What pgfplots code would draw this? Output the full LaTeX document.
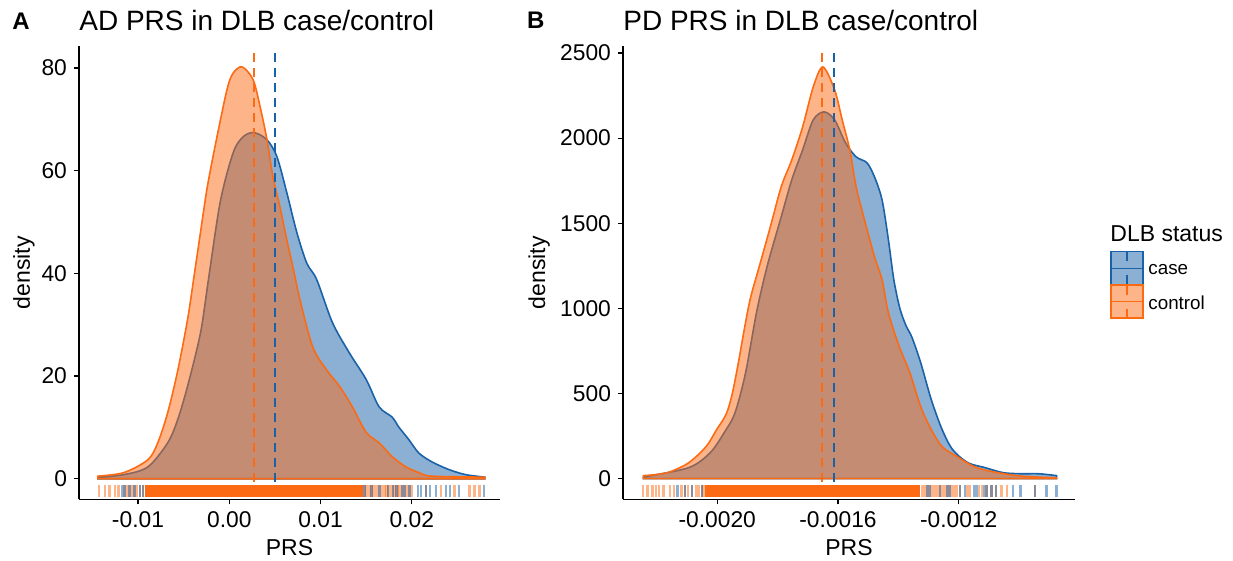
\documentclass[border=0pt]{standalone}
\usepackage{fontspec}
\setmainfont{Liberation Sans}
\usepackage{pgfplots}
\pgfplotsset{compat=1.18}
\usetikzlibrary{plotmarks}

\definecolor{caseblue}{HTML}{1A62A8}
\definecolor{ctrlorange}{HTML}{FC6A14}

\pgfplotsset{
  prsaxis/.style={
    scale only axis,
    anchor=south west,
    axis lines=left,
    axis line style={-, line width=0.6pt, black},
    tick align=outside,
    major tick length=2.5pt,
    every tick/.style={black, line width=0.6pt},
    tick label style={font=\fontsize{11.4}{13}\selectfont},
    scaled ticks=false,
  },
  dens/.style={line width=0.8pt, fill opacity=0.5, smooth, tension=0.5},
  rugo/.style={only marks, mark=|, mark size=3.1pt,
    mark options={draw=ctrlorange, line width=1.2pt, draw opacity=0.5}},
  rugb/.style={only marks, mark=|, mark size=3.1pt,
    mark options={draw=caseblue, line width=1.2pt, draw opacity=0.5}},
  mean/.style={line width=1pt, dash pattern=on 4.5pt off 3pt},
}

\begin{document}
\begin{tikzpicture}
\path[use as bounding box] (0pt,0pt) rectangle (616.5pt,280.5pt);

% ---------- panel A ----------
\begin{axis}[prsaxis, at={(39.5pt,30.85pt)}, width=210.5pt, height=226.65pt,
  xmin=-0.01646, xmax=0.02965, ymin=-4.01, ymax=84.27,
  xtick={-0.01,0,0.01,0.02}, xticklabels={-0.01,0.00,0.01,0.02},
  ytick={0,20,40,60,80}, yticklabels={0,20,40,60,80}]

\addplot[dens, draw=caseblue, fill=caseblue] coordinates {
(-0.0144,0.3) (-0.01152,0.8) (-0.00891,2.3) (-0.00674,7) (-0.00565,11.5)
(-0.00457,18) (-0.00315,28.4) (-0.00228,38.8) (-0.00098,54) (0.00043,63.5)
(0.00152,66.6) (0.00272,67.4) (0.00413,66) (0.00522,62.7) (0.00630,55.7)
(0.00739,48) (0.00848,42) (0.00957,38.8) (0.01130,30.4) (0.01315,24.5)
(0.01500,19.3) (0.01641,14) (0.01783,12) (0.01859,10) (0.01967,7.6)
(0.02076,5) (0.02217,3.3) (0.02402,1.8) (0.02587,0.8) (0.0280,0.3)
} \closedcycle;

\addplot[dens, draw=ctrlorange, fill=ctrlorange] coordinates {
(-0.0144,0.5) (-0.01152,1.2) (-0.00891,3.7) (-0.00783,7) (-0.00674,12.9)
(-0.00565,21) (-0.00457,31) (-0.00391,38.8) (-0.00315,48) (-0.00239,57)
(-0.00130,67) (-0.00022,76) (0.00043,79) (0.00141,80.2) (0.00261,77.7)
(0.00337,72.5) (0.00413,66) (0.00478,58.8) (0.00554,53) (0.00630,46.5)
(0.00696,41.3) (0.00772,35) (0.00913,25.7) (0.01065,21.2) (0.01207,18)
(0.01348,14) (0.01500,9) (0.01641,7) (0.01783,4.3) (0.01935,2.3)
(0.02076,1.2) (0.02217,0.5) (0.0280,0.3)
} \closedcycle;

% rug: dense core + single ticks
\addplot[fill=ctrlorange, draw=none] coordinates {
(-0.00921,-3.63) (0.01468,-3.63) (0.01468,-1.23) (-0.00921,-1.23)} -- cycle;
\addplot[rugo] coordinates {
(-0.01428,-2.43) (-0.01358,-2.43) (-0.01311,-2.43) (-0.01249,-2.43) (-0.01213,-2.43)
(-0.01148,-2.43) (-0.01121,-2.43) (-0.01093,-2.43) (-0.01067,-2.43) (-0.01038,-2.43)
(-0.01012,-2.43) (-0.00976,-2.43) (-0.00946,-2.43)
(0.01483,-2.43) (0.01500,-2.43) (0.01519,-2.43) (0.01538,-2.43) (0.01556,-2.43)
(0.01575,-2.43) (0.01593,-2.43) (0.01620,-2.43) (0.01647,-2.43) (0.01675,-2.43)
(0.01702,-2.43) (0.01720,-2.43) (0.01738,-2.43) (0.01765,-2.43) (0.01792,-2.43)
(0.01810,-2.43) (0.01830,-2.43) (0.01848,-2.43) (0.01866,-2.43) (0.01893,-2.43)
(0.01920,-2.43) (0.01947,-2.43) (0.01975,-2.43) (0.02000,-2.43) (0.02157,-2.43)
(0.02321,-2.43) (0.02467,-2.43) (0.02631,-2.43) (0.02685,-2.43) (0.02740,-2.43)};
\addplot[rugb] coordinates {
(-0.01176,-2.43) (-0.01148,-2.43) (-0.01093,-2.43) (-0.01038,-2.43) (-0.00976,-2.43)
(-0.00946,-2.43) (0.01483,-2.43) (0.01556,-2.43) (0.01647,-2.43) (0.01738,-2.43)
(0.01792,-2.43) (0.01830,-2.43) (0.01893,-2.43) (0.01920,-2.43) (0.01975,-2.43)
(0.02066,-2.43) (0.02103,-2.43) (0.02157,-2.43) (0.02201,-2.43) (0.02267,-2.43)
(0.02376,-2.43) (0.02420,-2.43) (0.02514,-2.43) (0.02787,-2.43)};

\addplot[mean, ctrlorange] coordinates {(0.00274,-0.6) (0.00274,83.2)};
\addplot[mean, caseblue] coordinates {(0.00504,-0.6) (0.00504,83.2)};
\end{axis}

% ---------- panel B ----------
\begin{axis}[prsaxis, at={(311.5pt,30.85pt)}, width=226pt, height=226.65pt,
  xmin=-0.002312, xmax=-0.000815, ymin=-121, ymax=2541,
  xtick={-0.002,-0.0016,-0.0012}, xticklabels={-0.0020,-0.0016,-0.0012},
  ytick={0,500,1000,1500,2000,2500}, yticklabels={0,500,1000,1500,2000,2500}]

\addplot[dens, draw=caseblue, fill=caseblue] coordinates {
(-0.002244,10) (-0.002094,65) (-0.002023,153) (-0.001977,270) (-0.001941,387)
(-0.001906,622) (-0.001870,974) (-0.001835,1244) (-0.001788,1538) (-0.001753,1755)
(-0.001717,1931) (-0.001682,2107) (-0.001646,2154) (-0.001611,2107) (-0.001575,1972)
(-0.001540,1890) (-0.001504,1855) (-0.001479,1772) (-0.001454,1637) (-0.001433,1403)
(-0.001415,1168) (-0.001395,1000) (-0.001375,900) (-0.001355,830) (-0.001326,681)
(-0.001291,464) (-0.001255,288) (-0.001220,170) (-0.001170,94) (-0.001113,65)
(-0.001052,35) (-0.000992,29) (-0.000935,29) (-0.000876,18)
} \closedcycle;

\addplot[dens, draw=ctrlorange, fill=ctrlorange] coordinates {
(-0.002244,18) (-0.002200,25) (-0.002155,41) (-0.002094,94) (-0.002037,188)
(-0.002002,288) (-0.001970,380) (-0.001950,500) (-0.001930,680) (-0.001910,880)
(-0.001890,1060) (-0.001860,1250) (-0.001824,1479) (-0.001788,1714) (-0.001753,1872)
(-0.001717,2066) (-0.001682,2300) (-0.001650,2418) (-0.001611,2283) (-0.001586,2107)
(-0.001561,1931) (-0.001540,1714) (-0.001515,1538) (-0.001479,1303) (-0.001454,1168)
(-0.001433,974) (-0.001397,775) (-0.001362,622) (-0.001326,423) (-0.001291,288)
(-0.001255,188) (-0.001205,129) (-0.001148,70) (-0.001088,41) (-0.000992,15)
(-0.000876,5)
} \closedcycle;

\addplot[fill=ctrlorange, draw=none] coordinates {
(-0.002040,-109) (-0.001328,-109) (-0.001328,-37) (-0.002040,-37)} -- cycle;
\addplot[rugo] coordinates {
(-0.002245,-73) (-0.002231,-73) (-0.002214,-73) (-0.002203,-73) (-0.002192,-73)
(-0.002178,-73) (-0.002156,-73) (-0.002143,-73) (-0.002118,-73) (-0.002107,-73)
(-0.002096,-73) (-0.002084,-73) (-0.002068,-73) (-0.002060,-73) (-0.002051,-73)
(-0.002045,-73)
(-0.001320,-73) (-0.001312,-73) (-0.001304,-73) (-0.001295,-73) (-0.001287,-73)
(-0.001279,-73) (-0.001270,-73) (-0.001262,-73) (-0.001254,-73) (-0.001246,-73)
(-0.001237,-73) (-0.001229,-73) (-0.001221,-73) (-0.001213,-73) (-0.001205,-73)
(-0.001196,-73) (-0.001171,-73) (-0.001163,-73) (-0.001132,-73) (-0.001124,-73)
(-0.001108,-73) (-0.001091,-73) (-0.001077,-73) (-0.001058,-73) (-0.001041,-73)
(-0.000948,-73)};
\addplot[rugb] coordinates {
(-0.002132,-73) (-0.002107,-73) (-0.002084,-73) (-0.002051,-73)
(-0.001304,-73) (-0.001295,-73) (-0.001262,-73) (-0.001237,-73) (-0.001229,-73)
(-0.001196,-73) (-0.001179,-73) (-0.001150,-73) (-0.001141,-73) (-0.001116,-73)
(-0.001108,-73) (-0.001091,-73) (-0.001077,-73) (-0.001020,-73) (-0.000995,-73)
(-0.000948,-73) (-0.000909,-73) (-0.000876,-73)};

\addplot[mean, ctrlorange] coordinates {(-0.001652,-21) (-0.001652,2508)};
\addplot[mean, caseblue] coordinates {(-0.001612,-21) (-0.001612,2508)};
\end{axis}

% ---------- titles, labels ----------
\node[anchor=base west, inner sep=0pt, font=\bfseries\fontsize{12}{14}\selectfont] at (6pt,265.85pt) {A};
\node[anchor=base west, inner sep=0pt, font=\bfseries\fontsize{12}{14}\selectfont] at (263.3pt,266.3pt) {B};
\node[anchor=base west, inner sep=0pt, font=\fontsize{14}{16}\selectfont] at (39.5pt,265.15pt) {AD PRS in DLB case/control};
\node[anchor=base west, inner sep=0pt, font=\fontsize{14}{16}\selectfont] at (311.5pt,265.15pt) {PD PRS in DLB case/control};
\node[rotate=90, anchor=base, inner sep=0pt, font=\fontsize{11.5}{13}\selectfont] at (15pt,144.2pt) {density};
\node[rotate=90, anchor=base, inner sep=0pt, font=\fontsize{11.5}{13}\selectfont] at (272.5pt,144.2pt) {density};
\node[anchor=base, inner sep=0pt, font=\fontsize{11.5}{13}\selectfont] at (144.75pt,2.5pt) {PRS};
\node[anchor=base, inner sep=0pt, font=\fontsize{11.5}{13}\selectfont] at (424.5pt,2.5pt) {PRS};

% ---------- legend ----------
\node[anchor=base west, inner sep=0pt, font=\fontsize{11.5}{13}\selectfont] at (555pt,159.65pt) {DLB status};
\fill[caseblue, fill opacity=0.5] (555.5pt,138pt) rectangle (571.5pt,154.65pt);
\draw[caseblue, line width=0.8pt] (555.5pt,138pt) rectangle (571.5pt,154.65pt);
\draw[caseblue, line width=0.4pt] (555.5pt,146.3pt) -- (571.5pt,146.3pt);
\draw[caseblue, line width=0.6pt] (563.5pt,154.65pt) -- (563.5pt,149.8pt) (563.5pt,142.8pt) -- (563.5pt,138pt);
\fill[ctrlorange, fill opacity=0.5] (555.5pt,121.35pt) rectangle (571.5pt,138pt);
\draw[ctrlorange, line width=0.8pt] (555.5pt,121.35pt) rectangle (571.5pt,138pt);
\draw[ctrlorange, line width=0.4pt] (555.5pt,129.7pt) -- (571.5pt,129.7pt);
\draw[ctrlorange, line width=0.6pt] (563.5pt,138pt) -- (563.5pt,133.2pt) (563.5pt,126.2pt) -- (563.5pt,121.35pt);
\node[anchor=base west, inner sep=0pt, font=\fontsize{9.4}{11}\selectfont] at (574pt,143pt) {case};
\node[anchor=base west, inner sep=0pt, font=\fontsize{9.4}{11}\selectfont] at (574pt,125.5pt) {control};
\end{tikzpicture}
\end{document}
